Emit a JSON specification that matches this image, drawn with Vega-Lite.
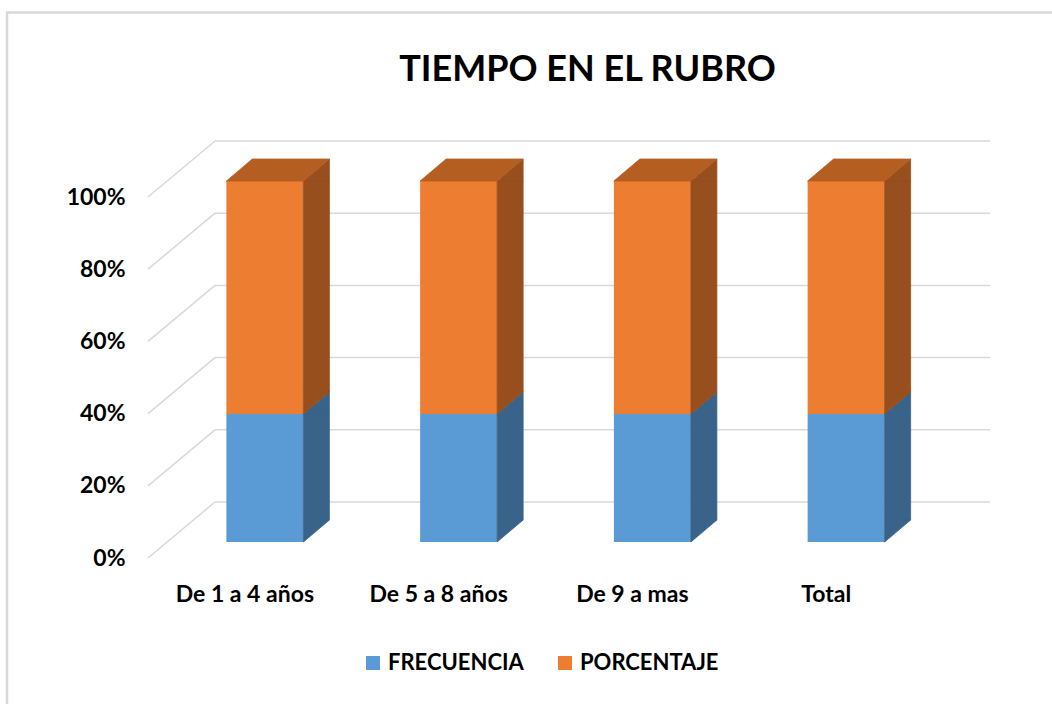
{
  "$schema": "https://vega.github.io/schema/vega-lite/v6.json",
  "width": 775,
  "height": 361,
  "autosize": {"type": "none"},
  "padding": {"left": 148, "top": 197, "right": 129, "bottom": 146},
  "background": "white",
  "config": {"view": {"stroke": null}},
  "title": {
    "text": "TIEMPO EN EL RUBRO",
    "font": "Lato",
    "fontSize": 36,
    "fontWeight": "bold",
    "color": "#000000",
    "anchor": "middle",
    "dx": 52,
    "offset": -78
  },
  "datasets": {
    "tabla": [
      {"categoria": "De 1 a 4 años", "serie": "FRECUENCIA", "valor": 18, "orden": 1},
      {"categoria": "De 1 a 4 años", "serie": "PORCENTAJE", "valor": 32.73, "orden": 2},
      {"categoria": "De 5 a 8 años", "serie": "FRECUENCIA", "valor": 22, "orden": 1},
      {"categoria": "De 5 a 8 años", "serie": "PORCENTAJE", "valor": 40, "orden": 2},
      {"categoria": "De 9 a mas", "serie": "FRECUENCIA", "valor": 15, "orden": 1},
      {"categoria": "De 9 a mas", "serie": "PORCENTAJE", "valor": 27.27, "orden": 2},
      {"categoria": "Total", "serie": "FRECUENCIA", "valor": 55, "orden": 1},
      {"categoria": "Total", "serie": "PORCENTAJE", "valor": 100, "orden": 2}
    ],
    "ticks": [{"t": 0}, {"t": 0.2}, {"t": 0.4}, {"t": 0.6}, {"t": 0.8}, {"t": 1}],
    "marco": [{"borde": "marco"}]
  },
  "layer": [
    {
      "data": {"name": "marco"},
      "mark": {"type": "rule", "color": "#D9D9D9", "strokeWidth": 2.5, "clip": false},
      "encoding": {
        "x": {"value": -141},
        "x2": {"value": -141},
        "y": {"value": -184.5},
        "y2": {"value": 507}
      }
    },
    {
      "data": {"name": "marco"},
      "mark": {"type": "rule", "color": "#D9D9D9", "strokeWidth": 2.5, "clip": false},
      "encoding": {
        "x": {"value": -142},
        "x2": {"value": 904},
        "y": {"value": -184.5},
        "y2": {"value": -184.5}
      }
    },
    {
      "data": {"name": "ticks"},
      "mark": {"type": "rule", "color": "#D9D9D9", "strokeWidth": 1.5, "clip": false, "yOffset": -56, "y2Offset": -56},
      "encoding": {
        "x": {"value": 67},
        "x2": {"value": 842},
        "y": {
          "field": "t",
          "type": "quantitative",
          "scale": {"domain": [0, 1], "nice": false, "zero": true},
          "axis": {
            "title": null,
            "format": ".0%",
            "values": [0, 0.2, 0.4, 0.6, 0.8, 1],
            "grid": false,
            "domain": false,
            "ticks": false,
            "labelFont": "Lato",
            "labelFontSize": 23,
            "labelFontWeight": "bold",
            "labelColor": "#000000",
            "labelPadding": 23
          }
        },
        "y2": {"field": "t"}
      }
    },
    {
      "data": {"name": "ticks"},
      "mark": {"type": "rule", "color": "#D9D9D9", "strokeWidth": 1.5, "clip": false, "y2Offset": -56},
      "encoding": {
        "x": {"value": 0},
        "x2": {"value": 67},
        "y": {"field": "t", "type": "quantitative"},
        "y2": {"field": "t"}
      }
    },
    {
      "data": {"name": "tabla"},
      "transform": [
        {"stack": "valor", "groupby": ["categoria"], "sort": [{"field": "orden", "order": "ascending"}], "offset": "normalize", "as": ["y0", "y1"]}
      ],
      "encoding": {
        "x": {
          "field": "categoria",
          "type": "nominal",
          "sort": ["De 1 a 4 años", "De 5 a 8 años", "De 9 a mas", "Total"],
          "scale": {"paddingInner": 0, "paddingOuter": 0},
          "axis": {
            "title": null,
            "labelAngle": 0,
            "domain": false,
            "ticks": false,
            "labelFont": "Lato",
            "labelFontSize": 23,
            "labelFontWeight": "bold",
            "labelColor": "#000000",
            "labelPadding": 25
          }
        }
      },
      "layer": [
        {
          "mark": {"type": "bar", "width": 77, "xOffset": 20, "yOffset": -16, "y2Offset": -16},
          "encoding": {
            "y": {"field": "y1", "type": "quantitative"},
            "y2": {"field": "y0"},
            "color": {
              "field": "serie",
              "type": "nominal",
              "scale": {"domain": ["FRECUENCIA", "PORCENTAJE"], "range": ["#5B9BD5", "#ED7D31"]},
              "legend": {
                "title": null,
                "orient": "none",
                "legendX": 214,
                "legendY": 455,
                "direction": "horizontal",
                "symbolType": "square",
                "symbolSize": 196,
                "symbolStrokeWidth": 0,
                "labelFont": "Lato",
                "labelFontSize": 22,
                "labelFontWeight": "bold",
                "labelColor": "#000000",
                "labelOffset": 4,
                "columnPadding": 30
              }
            }
          }
        },
        {
          "mark": {"type": "bar", "width": 26, "xOffset": 71.5, "yOffset": -16, "y2Offset": -38, "strokeWidth": 0.8},
          "encoding": {
            "y": {"field": "y1", "type": "quantitative"},
            "y2": {"field": "y0"},
            "fill": {"condition": {"test": "datum.serie === 'FRECUENCIA'", "value": "#3A6389"}, "value": "#974F1E"},
            "stroke": {"condition": {"test": "datum.serie === 'FRECUENCIA'", "value": "#3A6389"}, "value": "#974F1E"}
          }
        },
        {
          "mark": {"type": "point", "shape": "M38.5,0L64.5,-22L64.5,0Z", "size": 4, "filled": true, "opacity": 1, "strokeWidth": 0.8, "xOffset": 20, "yOffset": -16},
          "encoding": {
            "y": {"field": "y1", "type": "quantitative"},
            "fill": {"condition": {"test": "datum.serie === 'FRECUENCIA'", "value": "#3A6389"}, "value": "#974F1E"},
            "stroke": {"condition": {"test": "datum.serie === 'FRECUENCIA'", "value": "#3A6389"}, "value": "#974F1E"}
          }
        },
        {
          "mark": {"type": "point", "shape": "M38.5,-22L64.5,-22L38.5,0Z", "size": 4, "filled": true, "opacity": 1, "strokeWidth": 0.8, "xOffset": 20, "yOffset": -16},
          "encoding": {
            "y": {"field": "y0", "type": "quantitative"},
            "fill": {"condition": {"test": "datum.serie === 'FRECUENCIA'", "value": "#3A6389"}, "value": "#974F1E"},
            "stroke": {"condition": {"test": "datum.serie === 'FRECUENCIA'", "value": "#3A6389"}, "value": "#974F1E"}
          }
        },
        {
          "transform": [{"filter": "datum.serie === 'PORCENTAJE'"}],
          "mark": {"type": "point", "shape": "M-38.5,0L38.5,0L64.5,-22L-12.5,-22Z", "size": 4, "filled": true, "opacity": 1, "fill": "#B55E22", "stroke": "#B55E22", "strokeWidth": 0.8, "xOffset": 20, "yOffset": -16},
          "encoding": {
            "y": {"field": "y1", "type": "quantitative"}
          }
        }
      ]
    }
  ]
}
